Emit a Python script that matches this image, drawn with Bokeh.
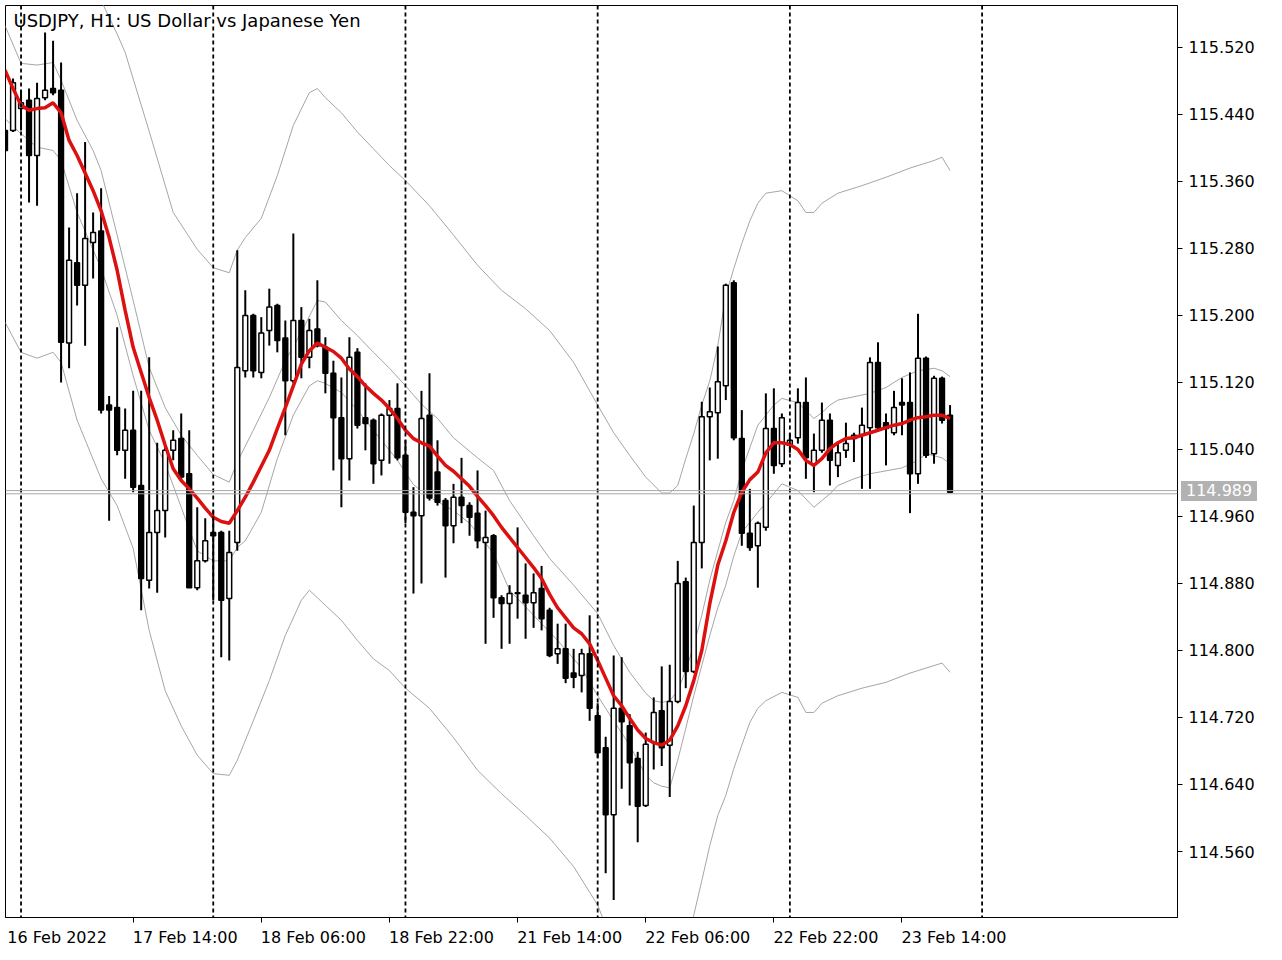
from bokeh.plotting import figure
from bokeh.models import (Range1d, FixedTicker, Span, Label, Div, InlineStyleSheet,
                          PrintfTickFormatter, ColumnDataSource)
from bokeh.layouts import column
from bokeh.embed import file_html
from bokeh.resources import INLINE

# ---------------- data ----------------
bars = list(range(119))
open_ = [115.421, 115.421, 115.447, 115.457, 115.391, 115.460, 115.471, 115.469, 115.167, 115.263,
         115.236, 115.287, 115.301, 115.093, 115.090, 115.039, 115.063, 114.997, 114.884, 114.941,
         114.967, 115.039, 115.053, 115.011, 114.875, 114.907, 114.941, 114.941, 114.862, 114.929,
         115.134, 115.200, 115.132, 115.182, 115.212, 115.173, 115.122, 115.194, 115.150, 115.184,
         115.162, 115.131, 115.078, 115.029, 115.156, 115.078, 115.075, 115.027, 115.081, 115.089,
         115.033, 114.965, 114.961, 115.081, 115.013, 114.979, 114.949, 114.983, 114.973, 114.964,
         114.929, 114.937, 114.863, 114.856, 114.869, 114.866, 114.857, 114.874, 114.848, 114.796,
         114.802, 114.773, 114.770, 114.796, 114.722, 114.684, 114.604, 114.731, 114.710, 114.671,
         114.615, 114.690, 114.728, 114.687, 114.739, 114.882, 114.775, 114.929, 115.079, 115.084,
         115.116, 115.239, 115.053, 114.940, 114.925, 114.947, 115.065, 115.023, 115.045, 115.054,
         115.096, 115.023, 115.039, 115.075, 115.021, 115.039, 115.053, 115.057, 115.066, 115.144,
         115.072, 115.060, 115.096, 115.096, 115.011, 115.149, 115.035, 115.125, 115.081]
high = [115.499, 115.483, 115.469, 115.471, 115.478, 115.538, 115.528, 115.502, 115.305, 115.346,
        115.407, 115.323, 115.352, 115.104, 115.186, 115.089, 115.110, 115.110, 115.150, 115.048,
        115.045, 115.063, 115.083, 115.063, 114.971, 114.958, 114.967, 114.943, 114.943, 115.278,
        115.230, 115.202, 115.198, 115.232, 115.214, 115.194, 115.298, 115.210, 115.196, 115.242,
        115.174, 115.146, 115.126, 115.174, 115.161, 115.119, 115.077, 115.083, 115.099, 115.119,
        115.051, 114.995, 115.110, 115.131, 115.051, 114.982, 114.999, 115.030, 114.977, 115.015,
        114.967, 114.939, 114.866, 114.878, 114.947, 114.904, 114.892, 114.901, 114.851, 114.832,
        114.832, 114.802, 114.802, 114.842, 114.737, 114.697, 114.794, 114.792, 114.724, 114.679,
        114.702, 114.744, 114.781, 114.783, 114.907, 114.887, 114.973, 115.097, 115.114, 115.163,
        115.238, 115.242, 115.087, 114.993, 114.954, 115.107, 115.113, 115.083, 115.059, 115.113,
        115.126, 115.059, 115.096, 115.083, 115.047, 115.072, 115.060, 115.090, 115.150, 115.168,
        115.083, 115.110, 115.125, 115.132, 115.202, 115.151, 115.128, 115.127, 115.093]
low = [115.395, 115.419, 115.421, 115.335, 115.331, 115.457, 115.463, 115.120, 115.137, 115.212,
       115.164, 115.244, 115.083, 114.955, 115.033, 115.005, 114.989, 114.848, 114.874, 114.869,
       114.935, 115.027, 115.005, 114.875, 114.872, 114.905, 114.860, 114.792, 114.788, 114.919,
       115.126, 115.126, 115.125, 115.164, 115.156, 115.057, 115.119, 115.125, 115.137, 115.162,
       115.107, 115.015, 114.971, 115.003, 115.065, 115.039, 114.999, 115.009, 115.023, 115.027,
       114.952, 114.868, 114.880, 114.979, 114.973, 114.887, 114.928, 114.952, 114.937, 114.922,
       114.808, 114.839, 114.802, 114.808, 114.838, 114.814, 114.827, 114.824, 114.792, 114.784,
       114.761, 114.755, 114.750, 114.716, 114.672, 114.534, 114.502, 114.635, 114.615, 114.571,
       114.613, 114.658, 114.662, 114.625, 114.737, 114.755, 114.773, 114.898, 115.027, 115.029,
       115.099, 115.051, 114.925, 114.919, 114.875, 114.943, 115.011, 115.019, 115.036, 115.047,
       115.005, 114.989, 115.036, 114.997, 115.007, 115.030, 115.025, 114.993, 114.993, 115.063,
       115.021, 115.057, 115.057, 114.964, 114.999, 115.030, 115.023, 115.071, 114.989]
close = [115.397, 115.478, 115.454, 115.391, 115.459, 115.469, 115.466, 115.168, 115.266, 115.236,
         115.292, 115.299, 115.087, 115.087, 115.039, 115.063, 114.995, 114.886, 114.941, 114.967,
         115.039, 115.051, 115.007, 114.875, 114.907, 114.931, 114.937, 114.860, 114.917, 115.138,
         115.200, 115.134, 115.179, 115.210, 115.170, 115.122, 115.194, 115.150, 115.182, 115.164,
         115.131, 115.078, 115.029, 115.150, 115.069, 115.071, 115.023, 115.081, 115.089, 115.030,
         114.965, 114.961, 115.077, 114.982, 114.977, 114.949, 114.983, 114.973, 114.959, 114.931,
         114.935, 114.863, 114.856, 114.868, 114.868, 114.857, 114.869, 114.838, 114.794, 114.802,
         114.767, 114.768, 114.796, 114.731, 114.678, 114.604, 114.731, 114.715, 114.666, 114.614,
         114.688, 114.726, 114.684, 114.739, 114.880, 114.775, 114.929, 115.079, 115.085, 115.121,
         115.236, 115.054, 114.940, 114.923, 114.952, 115.065, 115.021, 115.078, 115.051, 115.096,
         115.030, 115.039, 115.075, 115.027, 115.036, 115.047, 115.057, 115.069, 115.144, 115.066,
         115.065, 115.090, 115.093, 115.011, 115.149, 115.033, 115.125, 115.075, 114.989]

# moving average (red)
ma = [115.493, 115.471, 115.451, 115.445, 115.447, 115.448, 115.454, 115.442, 115.409, 115.391,
      115.370, 115.349, 115.325, 115.293, 115.254, 115.206, 115.162, 115.132, 115.102, 115.075,
      115.045, 115.017, 115.003, 114.993, 114.982, 114.970, 114.959, 114.954, 114.952, 114.967,
      114.983, 115.001, 115.020, 115.039, 115.065, 115.090, 115.116, 115.142, 115.158, 115.167,
      115.162, 115.157, 115.149, 115.136, 115.127, 115.116, 115.107, 115.099, 115.089, 115.077,
      115.063, 115.053, 115.048, 115.044, 115.032, 115.021, 115.014, 115.005, 114.996, 114.984,
      114.973, 114.961, 114.947, 114.935, 114.923, 114.911, 114.899, 114.886, 114.867, 114.851,
      114.839, 114.827, 114.820, 114.808, 114.788, 114.767, 114.746, 114.734, 114.719, 114.705,
      114.695, 114.690, 114.687, 114.693, 114.710, 114.734, 114.764, 114.800, 114.856, 114.902,
      114.931, 114.965, 114.989, 115.004, 115.013, 115.036, 115.048, 115.048, 115.046, 115.040,
      115.027, 115.021, 115.029, 115.041, 115.048, 115.053, 115.054, 115.057, 115.060, 115.063,
      115.066, 115.069, 115.071, 115.075, 115.078, 115.079, 115.081, 115.081, 115.077]

# outer band, upper
ou_bars = [10, 12, 14, 15, 18, 21, 24, 26, 28, 29, 30, 32, 34, 36, 38, 39, 40, 42, 44, 46,
           48, 50, 53, 56, 59, 62, 65, 68, 71, 74, 76, 78, 80, 82, 83, 84, 85, 86, 87, 88,
           89, 90, 91, 92, 93, 94, 95, 97, 99, 100, 101, 102, 104, 107, 110, 113, 116, 117, 118]
ou_vals = [115.624, 115.576, 115.536, 115.514, 115.420, 115.323, 115.279, 115.257, 115.251, 115.278,
           115.293, 115.316, 115.367, 115.427, 115.466, 115.471, 115.460, 115.442, 115.419, 115.399,
           115.379, 115.361, 115.331, 115.296, 115.260, 115.230, 115.208, 115.182, 115.144, 115.093,
           115.060, 115.033, 115.007, 114.988, 114.988, 114.997, 115.029, 115.059, 115.093, 115.122,
           115.164, 115.224, 115.256, 115.286, 115.313, 115.334, 115.346, 115.349, 115.337, 115.323,
           115.323, 115.334, 115.346, 115.355, 115.365, 115.376, 115.385, 115.389, 115.373]
# outer band, lower
ol_bars = [0, 2, 4, 6, 7, 9, 12, 14, 16, 18, 20, 22, 24, 26, 28, 29, 31, 33, 35, 37,
           38, 40, 42, 44, 46, 48, 50, 53, 56, 59, 62, 65, 68, 71, 74, 75, 78, 82, 85, 86,
           87, 88, 89, 90, 91, 92, 93, 94, 95, 97, 99, 100, 101, 102, 104, 107, 110, 113, 116, 117, 118]
ol_vals = [115.192, 115.156, 115.149, 115.156, 115.144, 115.075, 115.005, 114.973, 114.922, 114.824,
           114.752, 114.710, 114.675, 114.653, 114.651, 114.669, 114.716, 114.764, 114.818, 114.860,
           114.872, 114.854, 114.836, 114.812, 114.790, 114.776, 114.755, 114.731, 114.696, 114.657,
           114.629, 114.603, 114.576, 114.542, 114.496, 114.472, 114.412, 114.382, 114.442, 114.484,
           114.525, 114.567, 114.603, 114.627, 114.659, 114.687, 114.714, 114.731, 114.740, 114.750,
           114.744, 114.726, 114.726, 114.737, 114.746, 114.755, 114.762, 114.773, 114.782, 114.785,
           114.774]
# inner band, upper
iu_bars = [0, 2, 4, 6, 7, 9, 11, 12, 14, 16, 18, 20, 22, 24, 26, 28, 29, 31, 33, 35,
           37, 39, 40, 42, 44, 46, 48, 50, 52, 54, 56, 59, 61, 63, 66, 68, 71, 74, 76, 78,
           80, 81, 82, 83, 84, 85, 86, 87, 88, 89, 90, 91, 92, 93, 94, 95, 96, 97, 99, 101,
           102, 103, 104, 105, 108, 110, 112, 114, 116, 117, 118]
iu_vals = [115.546, 115.501, 115.499, 115.502, 115.481, 115.433, 115.397, 115.373, 115.296, 115.218,
           115.138, 115.090, 115.057, 115.033, 115.010, 115.001, 115.025, 115.063, 115.102, 115.146,
           115.180, 115.218, 115.216, 115.194, 115.176, 115.156, 115.137, 115.116, 115.094, 115.077,
           115.054, 115.030, 115.015, 114.979, 114.937, 114.910, 114.878, 114.844, 114.806, 114.774,
           114.749, 114.740, 114.738, 114.740, 114.752, 114.776, 114.806, 114.842, 114.884, 114.919,
           114.953, 114.979, 115.015, 115.042, 115.069, 115.081, 115.093, 115.101, 115.096, 115.077,
           115.084, 115.093, 115.099, 115.101, 115.107, 115.114, 115.126, 115.134, 115.137, 115.134,
           115.127]
# inner band, lower
il_bars = [0, 2, 4, 6, 7, 9, 12, 14, 16, 18, 20, 22, 24, 26, 28, 29, 30, 32, 34, 36,
           38, 39, 40, 42, 44, 47, 49, 51, 53, 56, 58, 61, 63, 66, 69, 72, 74, 76, 78, 80,
           81, 82, 83, 84, 85, 86, 87, 88, 89, 90, 91, 92, 93, 94, 95, 97, 99, 101, 102, 103,
           104, 106, 108, 112, 114, 115, 117, 118]
il_vals = [115.435, 115.417, 115.401, 115.397, 115.385, 115.323, 115.256, 115.200, 115.128, 115.063,
           115.023, 114.971, 114.919, 114.907, 114.907, 114.923, 114.931, 114.965, 115.029, 115.081,
           115.116, 115.122, 115.119, 115.108, 115.087, 115.051, 115.027, 114.998, 114.983, 114.967,
           114.952, 114.916, 114.872, 114.842, 114.812, 114.779, 114.746, 114.716, 114.687, 114.651,
           114.642, 114.638, 114.636, 114.669, 114.707, 114.746, 114.782, 114.818, 114.851, 114.878,
           114.913, 114.941, 114.953, 114.965, 114.976, 114.999, 114.991, 114.971, 114.979, 114.987,
           114.997, 115.005, 115.011, 115.018, 115.027, 115.035, 115.030, 115.023]

price_ticks = [114.560, 114.640, 114.720, 114.800, 114.880, 114.960, 115.040,
               115.120, 115.200, 115.280, 115.360, 115.440, 115.520]
date_bars = [0, 16, 32, 48, 64, 80, 96, 112]
date_labels = ["16 Feb 2022", "17 Feb 14:00", "18 Feb 06:00", "18 Feb 22:00",
               "21 Feb 14:00", "22 Feb 06:00", "22 Feb 22:00", "23 Feb 14:00"]
separator_bars = [2, 26, 50, 74, 98, 122]
last_price = 114.989
title_text = "USDJPY, H1:  US Dollar vs Japanese Yen"

# ---------------- figure ----------------
FONT = "DejaVu Sans"
x0, x1 = 0.06, 146.4
y0, y1 = 114.4812, 115.5701

p = figure(frame_width=1172, frame_height=912,
           x_range=Range1d(x0, x1), y_range=Range1d(y0, y1),
           y_axis_location="right", toolbar_location=None, output_backend="svg",
           min_border_left=5, min_border_top=5, min_border_right=86, min_border_bottom=32)
p.grid.visible = False
p.outline_line_color = "black"
p.outline_line_width = 1
p.background_fill_color = "white"
p.border_fill_color = "white"

# right price axis
ya = p.yaxis[0]
ya.ticker = FixedTicker(ticks=price_ticks)
ya.formatter = PrintfTickFormatter(format="%.3f")
ya.major_tick_out = 5
ya.major_tick_in = 0
ya.minor_tick_out = 0
ya.minor_tick_in = 0
ya.major_label_standoff = 6
ya.major_label_text_font = FONT
ya.major_label_text_font_size = "16px"
ya.major_label_text_color = "black"
ya.axis_line_color = "black"
ya.major_tick_line_color = "black"

# bottom time axis: labels start at their bar, tick marks at the bar
lab_ticks = [b + 6.5 for b in date_bars]
xa = p.xaxis[0]
xa.ticker = FixedTicker(ticks=lab_ticks, minor_ticks=date_bars)
xa.major_label_overrides = {t: s for t, s in zip(lab_ticks, date_labels)}
xa.major_tick_line_color = None
xa.major_tick_out = 0
xa.major_tick_in = 0
xa.minor_tick_out = 5
xa.minor_tick_in = 0
xa.minor_tick_line_color = "black"
xa.major_label_standoff = 5
xa.major_label_text_font = FONT
xa.major_label_text_font_size = "16px"
xa.major_label_text_color = "black"
xa.axis_line_color = "black"

# period separators
for b in separator_bars:
    p.add_layout(Span(location=b, dimension="height", line_color="black",
                      line_dash="4 3", line_width=1.8))

# last price lines
for off in (0.0019, -0.0019):
    p.add_layout(Span(location=last_price + off, dimension="width",
                      line_color="#a8a8a8", line_width=1))

# bands
band_col = "#a6a6a6"
p.line(ou_bars, ou_vals, line_color=band_col, line_width=1)
p.line(ol_bars, ol_vals, line_color=band_col, line_width=1)
p.line(iu_bars, iu_vals, line_color=band_col, line_width=1)
p.line(il_bars, il_vals, line_color=band_col, line_width=1)

# candles
src = ColumnDataSource(dict(
    x=bars, o=open_, h=high, l=low, c=close,
    top=[max(a, b) for a, b in zip(open_, close)],
    bottom=[min(a, b) for a, b in zip(open_, close)],
    fill=["white" if c >= o else "black" for o, c in zip(open_, close)],
))
p.segment(x0="x", y0="l", x1="x", y1="h", source=src, line_color="black", line_width=2)
p.vbar(x="x", width=0.6, top="top", bottom="bottom", source=src,
       fill_color="fill", line_color="black", line_width=1.5)

# moving average
p.line(bars, ma, line_color="#dd1010", line_width=3.5)

# title inside the chart
p.add_layout(Label(x=x0 + 1.0, y=y1 - 0.0179, text=title_text, text_font=FONT,
                   text_font_size="18px", text_color="black", text_baseline="alphabetic"))

# last price tag beside the price scale
tag_css = InlineStyleSheet(css=""":host {
  position: absolute !important; left: 1181px !important; top: 481px !important;
  width: auto !important; height: auto !important;
}
div { background-color: #b2b2b2; color: white; font-family: 'DejaVu Sans';
      font-size: 16px; line-height: 20px; padding: 0 5px; white-space: nowrap; }""")
tag = Div(text=f"{last_price:.3f}", margin=0, stylesheets=[tag_css])

layout = column(p, tag)
open("out.html", "w").write(file_html(layout, INLINE))
